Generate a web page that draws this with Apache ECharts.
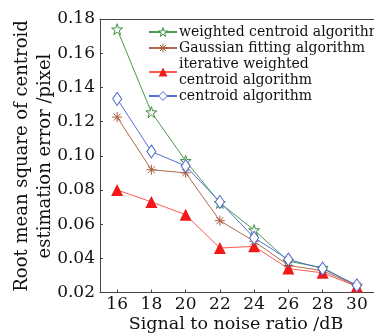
<!DOCTYPE html>
<html>
<head>
<meta charset="utf-8">
<script src="https://cdn.jsdelivr.net/npm/echarts@6/dist/echarts.min.js"></script>
<style>html,body{margin:0;padding:0;background:#fff;}#c{width:374px;height:335px;}</style>
</head>
<body>
<div id="c"></div>
<script>
var snrCategories = ['16', '18', '20', '22', '24', '26', '28', '30'];
var weightedCentroid = [0.174, 0.1255, 0.097, 0.0724, 0.0565, 0.0383, 0.0345, 0.024];
var gaussianFitting = [0.1226, 0.0918, 0.090, 0.062, 0.050, 0.0358, 0.0328, 0.0238];
var iterativeWeighted = [0.080, 0.073, 0.0655, 0.046, 0.047, 0.034, 0.0315, 0.0235];
var centroid = [0.1333, 0.1025, 0.094, 0.073, 0.052, 0.0393, 0.034, 0.0242];
var seriesNames = ['weighted centroid algorithm', 'Gaussian fitting algorithm', 'iterative weighted\ncentroid algorithm', 'centroid algorithm'];

var serif = 'DejaVu Serif';
var starPath = 'path://M50,0L61.8,35.1L98.9,35.1L68.9,56.7L80.3,91.9L50,70.2L19.7,91.9L31.1,56.7L1.1,35.1L38.2,35.1Z';
var asteriskPath = 'path://M50,0L50,100M0,50L100,50M15,15L85,85M85,15L15,85';

var legendText = {fontFamily: serif, fontSize: 14, color: '#111', lineHeight: 16, padding: [0, 0, 0, -3]};

var greenStyle = {color: '#fff', borderColor: '#3e8e3e', borderWidth: 1};
var brownStyle = {color: 'rgba(0,0,0,0)', borderColor: '#a85a3a', borderWidth: 1};
var redStyle = {color: '#f01818', borderWidth: 0};
var blueStyle = {color: '#fff', borderColor: '#4a66d0', borderWidth: 1};

var chart = echarts.init(document.getElementById('c'), null, {renderer: 'canvas'});
chart.setOption({
  animation: false,
  backgroundColor: '#fff',
  grid: {left: 100, top: 19, width: 277, height: 273.5, containLabel: false},
  xAxis: [{
    type: 'category',
    data: snrCategories,
    boundaryGap: true,
    axisLine: {show: true, lineStyle: {color: '#444', width: 1}},
    axisTick: {show: true, inside: true, length: 3, alignWithLabel: true, lineStyle: {color: '#444'}},
    axisLabel: {fontFamily: serif, fontSize: 17, color: '#111', margin: 4},
    splitLine: {show: false}
  }, {
    type: 'category',
    data: snrCategories,
    position: 'top',
    axisLine: {show: true, lineStyle: {color: '#444', width: 1}},
    axisTick: {show: false},
    axisLabel: {show: false}
  }],
  yAxis: {
    type: 'value',
    min: 0.02, max: 0.18, interval: 0.02,
    axisLine: {show: true, lineStyle: {color: '#444', width: 1}},
    axisTick: {show: true, inside: true, length: 3, lineStyle: {color: '#444'}},
    axisLabel: {fontFamily: serif, fontSize: 17, color: '#111', margin: 5,
      formatter: function (v) { return v.toFixed(2); }},
    splitLine: {show: false}
  },
  legend: {
    orient: 'vertical',
    left: 148, top: 24,
    itemWidth: 28, itemHeight: 11, itemGap: 0,
    padding: 0,
    textStyle: legendText,
    data: [
      {name: seriesNames[0], textStyle: legendText, itemStyle: greenStyle},
      {name: seriesNames[1], textStyle: legendText, itemStyle: brownStyle},
      {name: seriesNames[2], textStyle: legendText, itemStyle: redStyle},
      {name: seriesNames[3], textStyle: legendText, itemStyle: blueStyle}
    ]
  },
  series: [{
    name: seriesNames[0], type: 'line', data: weightedCentroid,
    symbol: starPath, symbolSize: 11,
    itemStyle: greenStyle,
    lineStyle: {color: '#4c9a4c', width: 1}
  }, {
    name: seriesNames[1], type: 'line', data: gaussianFitting,
    symbol: asteriskPath, symbolSize: 10,
    itemStyle: brownStyle,
    lineStyle: {color: '#b06a4a', width: 1}
  }, {
    name: seriesNames[2], type: 'line', data: iterativeWeighted,
    symbol: 'triangle', symbolSize: 12,
    itemStyle: redStyle,
    lineStyle: {color: '#ff5a50', width: 1}
  }, {
    name: seriesNames[3], type: 'line', data: centroid,
    symbol: 'diamond', symbolSize: [9, 13],
    itemStyle: blueStyle,
    lineStyle: {color: '#5070d8', width: 1}
  }],
  graphic: [{
    type: 'text', x: 22, y: 156, rotation: Math.PI / 2,
    style: {text: 'Root mean square of centroid', fontFamily: serif, fontSize: 18, fill: '#111', align: 'center', verticalAlign: 'middle'}
  }, {
    type: 'text', x: 45, y: 156, rotation: Math.PI / 2,
    style: {text: 'estimation error /pixel', fontFamily: serif, fontSize: 18, fill: '#111', align: 'center', verticalAlign: 'middle'}
  }, {
    type: 'text', x: 236, y: 324,
    style: {text: 'Signal to noise ratio /dB', fontFamily: serif, fontSize: 17.5, fill: '#111', align: 'center', verticalAlign: 'middle'}
  }]
});
</script>
</body>
</html>
